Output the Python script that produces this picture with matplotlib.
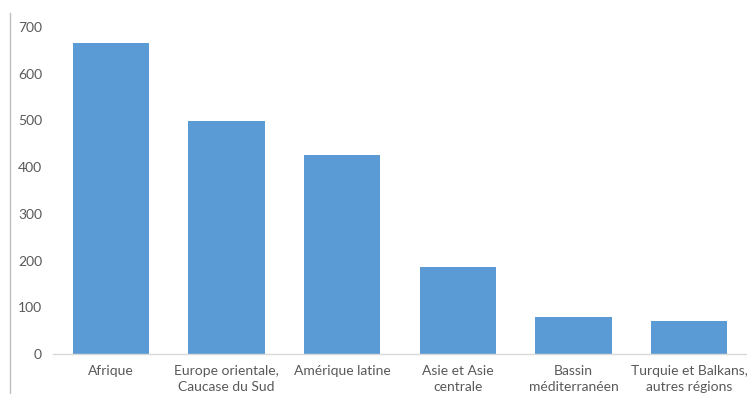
import matplotlib.pyplot as plt
from matplotlib.lines import Line2D

regions = ['Afrique', 'Europe orientale,\nCaucase du Sud', 'Amérique latine',
           'Asie et Asie\ncentrale', 'Bassin\nméditerranéen', 'Turquie et Balkans,\nautres régions']
values = [665, 499, 427, 187, 80, 71]
yticks = [0, 100, 200, 300, 400, 500, 600, 700]

plt.rcParams['font.family'] = ['Lato', 'DejaVu Sans']
gray = '#595959'

fig = plt.figure(figsize=(7.47, 3.94), dpi=100)
ax = fig.add_axes([0.071, 0.1015, 0.929, 0.83])
x = range(len(regions))
ax.bar(x, values, width=0.66, color='#5b9bd5')
ax.set_xlim(-0.5, len(regions) - 0.5)
ax.set_ylim(0, 700)
ax.set_yticks(yticks)
ax.set_xticks(list(x))
ax.set_xticklabels(regions, fontsize=10, color=gray, linespacing=1.35)
ax.tick_params(axis='y', labelsize=10, labelcolor=gray, length=0, pad=8)
ax.tick_params(axis='x', length=0, pad=8)
for s in ['top', 'right', 'left']:
    ax.spines[s].set_visible(False)
ax.spines['bottom'].set_color('#d9d9d9')
ax.spines['bottom'].set_linewidth(1)

# left frame edge
fig.add_artist(Line2D([10 / 747, 10 / 747], [0, 1 - 13 / 394], color='#bfbfbf', lw=1))

fig.savefig('out.png', dpi=100)
